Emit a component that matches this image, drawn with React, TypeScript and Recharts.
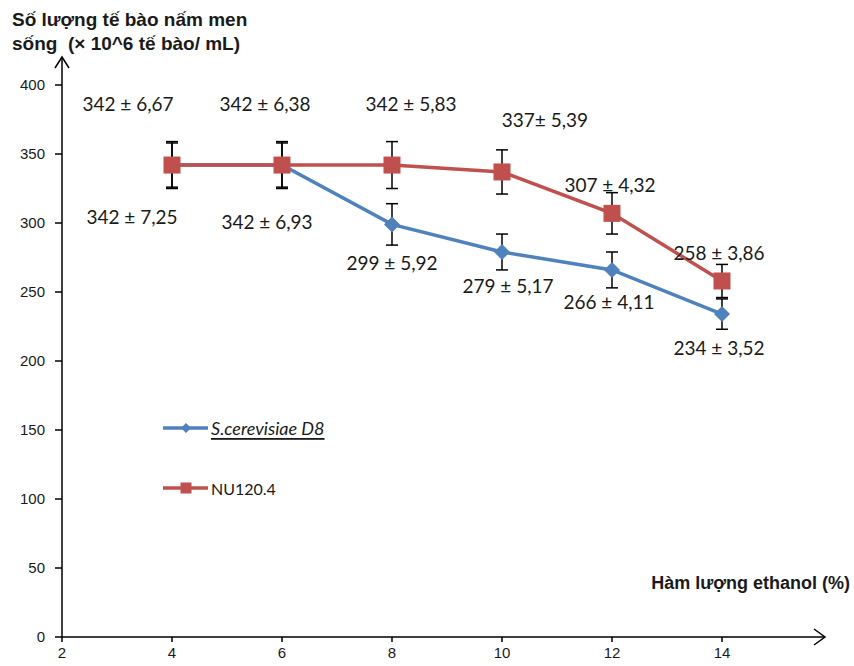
import {
  ErrorBar,
  LabelList,
  Legend,
  Line,
  LineChart,
  ReferenceDot,
  XAxis,
  YAxis,
} from "recharts";

const ethanol = [4, 6, 8, 10, 12, 14];
const d8Values = [342, 342, 299, 279, 266, 234];
const nuValues = [342, 342, 342, 337, 307, 258];
const d8Errors = [16, 16, 15, 13, 13, 11];
const nuErrors = [17, 17, 17, 16, 15, 12];
const d8Labels = ["342 ± 7,25", "342 ± 6,93", "299 ± 5,92", "279 ± 5,17", "266 ± 4,11", "234 ± 3,52"];
const nuLabels = ["342 ± 6,67", "342 ± 6,38", "342 ± 5,83", "337± 5,39", "307 ± 4,32", "258 ± 3,86"];
const xTicks = [2, 4, 6, 8, 10, 12, 14];
const yTicks = [0, 50, 100, 150, 200, 250, 300, 350, 400];

const X_MAX = 15.873;
const Y_MAX = 420.3;

const data = ethanol.map((x, i) => ({
  x,
  d8: d8Values[i],
  nu: nuValues[i],
  d8Err: d8Errors[i],
  nuErr: nuErrors[i],
}));

// where each value label sits relative to its point (px)
const nuLabelOffsets = [[-44, -62], [-17, -62], [19, -62], [43, -52], [-2, -29], [-3, -28]];
const d8LabelOffsets = [[-40, 51], [-15, 56], [0, 38], [6, 34], [-3, 32], [-3, 33]];

const BLUE = "#4F81BD";
const RED = "#C0504D";
const AXIS_FONT = "'Liberation Sans', Arial, sans-serif";
const LABEL_FONT = "Lato, 'Open Sans', sans-serif";

const makeLabel = (labels: string[], offsets: number[][]) => (props: any) => {
  const { x, y, index } = props;
  const [dx, dy] = offsets[index];
  return (
    <text
      x={x + dx}
      y={y + dy}
      textAnchor="middle"
      dominantBaseline="central"
      fontFamily={LABEL_FONT}
      fontSize={19}
      fill="#1a1a1a"
    >
      {labels[index]}
    </text>
  );
};

const diamondPath = (cx: number, cy: number, h: number) =>
  `M${cx},${cy - h} L${cx + h},${cy} L${cx},${cy + h} L${cx - h},${cy} Z`;

const renderDiamond = (p: any) =>
  p.cx == null ? null : <path key={`d-${p.index}`} d={diamondPath(p.cx, p.cy, 8)} fill={BLUE} />;

const renderSquare = (p: any) =>
  p.cx == null ? null : (
    <rect key={`s-${p.index}`} x={p.cx - 8.5} y={p.cy - 8.5} width={17} height={17} fill={RED} />
  );

const XArrow = ({ cx, cy }: any) => (
  <path d={`M${cx - 11},${cy - 8} L${cx},${cy} L${cx - 11},${cy + 8}`} fill="none" stroke="#000" strokeWidth={1.5} />
);

const YArrow = ({ cx, cy }: any) => (
  <path d={`M${cx - 7},${cy + 11} L${cx},${cy} L${cx + 7},${cy + 11}`} fill="none" stroke="#000" strokeWidth={1.5} />
);

const LegendBox = () => (
  <svg width={200} height={95} style={{ overflow: "visible" }}>
    <line x1={3} y1={18} x2={48} y2={18} stroke={BLUE} strokeWidth={3.5} />
    <path d={diamondPath(26, 18, 5)} fill={BLUE} />
    <text
      x={51}
      y={18}
      dominantBaseline="central"
      fontFamily={LABEL_FONT}
      fontSize={18}
      fontStyle="italic"
      textDecoration="underline"
      fill="#1a1a1a"
    >
      S.cerevisiae D8
    </text>
    <line x1={3} y1={78} x2={48} y2={78} stroke={RED} strokeWidth={3.5} />
    <rect x={20.5} y={72.5} width={11} height={11} fill={RED} />
    <text x={51} y={78} dominantBaseline="central" fontFamily={LABEL_FONT} fontSize={16} fill="#1a1a1a">
      NU120.4
    </text>
  </svg>
);

export default function App() {
  return (
    <div style={{ position: "absolute", left: 0, top: 0, width: 854, height: 666, background: "#fff" }}>
      <LineChart width={854} height={666} data={data} margin={{ top: 57, right: 29, bottom: 0, left: 0 }}>
        <XAxis
          dataKey="x"
          type="number"
          domain={[2, X_MAX]}
          ticks={xTicks}
          allowDataOverflow
          height={29}
          stroke="#000"
          strokeWidth={1.5}
          tickSize={5}
          tickMargin={5}
          tick={{ fontSize: 15, fill: "#1a1a1a", fontFamily: AXIS_FONT }}
        />
        <YAxis
          type="number"
          domain={[0, Y_MAX]}
          ticks={yTicks}
          allowDataOverflow
          width={62}
          stroke="#000"
          strokeWidth={1.5}
          tickSize={7}
          tickMargin={10}
          tick={{ fontSize: 15, fill: "#1a1a1a", fontFamily: AXIS_FONT }}
        />
        <ReferenceDot x={X_MAX} y={0} ifOverflow="visible" shape={<XArrow />} />
        <ReferenceDot x={2} y={Y_MAX} ifOverflow="visible" shape={<YArrow />} />
        <Legend
          layout="vertical"
          align="center"
          verticalAlign="middle"
          content={<LegendBox />}
          wrapperStyle={{ left: 160, top: 410, width: 200, height: 95 }}
        />
        <Line
          dataKey="d8"
          name="S.cerevisiae D8"
          stroke={BLUE}
          strokeWidth={3.5}
          dot={renderDiamond}
          activeDot={false}
          isAnimationActive={false}
        >
          <ErrorBar dataKey="d8Err" width={6} stroke="#000" strokeWidth={1.5} direction="y" />
          <LabelList dataKey="d8" content={makeLabel(d8Labels, d8LabelOffsets)} />
        </Line>
        <Line
          dataKey="nu"
          name="NU120.4"
          stroke={RED}
          strokeWidth={3.5}
          dot={renderSquare}
          activeDot={false}
          isAnimationActive={false}
        >
          <ErrorBar dataKey="nuErr" width={6} stroke="#000" strokeWidth={1.5} direction="y" />
          <LabelList dataKey="nu" content={makeLabel(nuLabels, nuLabelOffsets)} />
        </Line>
      </LineChart>
      <div
        style={{
          position: "absolute",
          left: 12,
          top: 8,
          fontFamily: AXIS_FONT,
          fontWeight: "bold",
          fontSize: 19,
          lineHeight: "24px",
          color: "#1a1a1a",
          whiteSpace: "pre",
        }}
      >
        {"Số lượng tế bào nấm men\nsống  (× 10^6 tế bào/ mL)"}
      </div>
      <div
        style={{
          position: "absolute",
          right: 4,
          top: 573,
          fontFamily: AXIS_FONT,
          fontWeight: "bold",
          fontSize: 18,
          color: "#1a1a1a",
          whiteSpace: "pre",
        }}
      >
        Hàm lượng ethanol (%)
      </div>
    </div>
  );
}
